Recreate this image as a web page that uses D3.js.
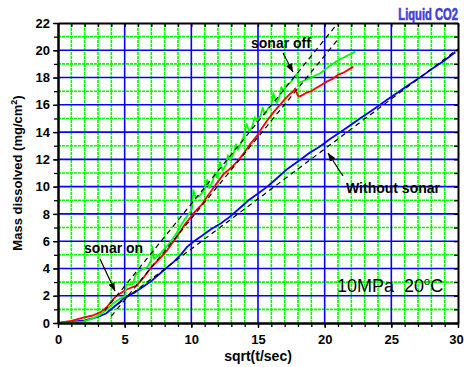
<!DOCTYPE html>
<html>
<head>
<meta charset="utf-8">
<script src="https://cdn.jsdelivr.net/npm/d3@7"></script>
<style>
  body { margin: 0; background: #fff; }
  text { font-family: "Liberation Sans", Arial, sans-serif; }
</style>
</head>
<body>
<div id="chart"></div>
<script>
// x: sqrt(t/sec), y: mass dissolved (mg/cm2)
const xTicks = [0, 5, 10, 15, 20, 25, 30];
const yTicks = [0, 2, 4, 6, 8, 10, 12, 14, 16, 18, 20, 22];

const sonarRed = [[0,0],[1,0.15],[1.9,0.4],[2.6,0.55],[3.2,0.8],[3.7,1.2],[4.05,1.65],[4.4,2.0],[5.05,2.4],[5.5,2.6],
  [5.9,2.75],[6.4,3.3],[7.0,4.1],[7.3,4.4],[7.7,4.8],[8.2,5.35],[8.9,6.3],[9.5,7.2],[9.9,7.7],[10.2,8.1],[10.8,8.7],
  [11.2,9.3],[11.65,9.9],[12.4,10.9],[13.0,11.4],[13.5,11.9],[13.9,12.4],[14.4,13.1],[14.9,13.7],[15.3,14.3],[15.65,14.8],
  [16.2,15.5],[16.65,16.0],[17.0,16.4],[17.4,16.8],[17.65,17.0],[17.8,17.2],[17.95,16.75],[18.1,16.6],[18.4,16.75],
  [18.65,16.9],[19.0,17.0],[19.3,17.2],[19.65,17.4],[20.15,17.7],[20.6,17.9],[21.0,18.2],[21.5,18.4],[22.15,18.8]];

const sonarGreen = [[0,0],[1,0.02],[1.9,0.1],[2.5,0.3],[3.15,0.6],[3.7,1.0],[4.15,1.45],[4.6,1.75],[5.05,2.0],[5.1,2.8],
  [5.6,2.85],[5.8,3.5],[6.2,3.9],[6.7,4.1],[7.0,4.6],[7.08,5.6],[7.2,4.7],[7.6,5.0],[7.9,5.35],[8.4,5.9],[8.9,6.6],
  [9.5,7.6],[9.9,8.1],[10.05,8.4],[10.15,9.75],[10.3,9.2],[10.6,9.3],[11.0,9.8],[11.2,10.5],[11.35,9.9],[11.6,10.4],
  [11.75,11.0],[11.9,10.7],[12.15,11.8],[12.35,11.2],[12.6,11.6],[12.75,12.3],[12.9,11.95],[13.2,12.5],[13.35,13.1],
  [13.5,12.7],[13.9,13.6],[14.15,14.6],[14.35,14.0],[14.6,14.5],[14.75,15.1],[14.9,14.8],[15.2,15.2],[15.35,15.8],
  [15.5,15.3],[15.8,15.8],[16.0,16.0],[16.15,16.85],[16.4,16.1],[16.6,16.6],[16.75,17.3],[16.9,17.0],[17.2,17.5],
  [17.4,17.6],[17.9,18.25],[18.05,17.6],[18.5,17.8],[18.9,17.95],[19.3,18.15],[19.65,18.3],[20.3,18.8],[20.9,19.2],
  [21.6,19.55],[22.3,19.9]];

const noSonarBlue = [[0,0],[1,0.08],[2,0.2],[3,0.45],[3.6,0.7],[4.1,1.1],[4.6,1.5],[5,1.9],[5.7,2.2],[6.3,2.6],[6.9,3.0],
  [7.5,3.5],[8.2,4.1],[8.7,4.5],[9.2,5.0],[9.7,5.6],[10.2,6.0],[10.8,6.4],[11.5,6.9],[12.2,7.3],[12.9,7.8],[13.6,8.4],
  [14.3,9.0],[15.0,9.5],[15.7,10.0],[16.4,10.6],[17.2,11.3],[18.15,11.95],[18.9,12.5],[19.65,12.95],[20.4,13.5],
  [21.2,14.0],[22.0,14.55],[22.65,15.0],[23.4,15.5],[24.0,15.9],[24.65,16.35],[25.4,16.85],[26.2,17.4],[27.15,18.0],
  [28.0,18.6],[28.9,19.2],[29.8,19.85]];

const fitGreen = [[3.5,0.9],[21.0,22.0]];
const fitRed = [[4.0,0.5],[21.0,20.8]];
const fitBlue = [[4.5,1.4],[30,20.1]];

const W = 464, H = 367;
const margin = { top: 23, right: 6, bottom: 44, left: 58 };

const svg = d3.select('#chart').append('svg').attr('width', W).attr('height', H);

const x = d3.scaleLinear().domain([0, 30]).range([margin.left, W - margin.right]);
const y = d3.scaleLinear().domain([0, 22]).range([H - margin.bottom, margin.top]);

// grid: minor green dotted, major blue solid
const g = svg.append('g');
g.selectAll('.vminor').data(d3.range(1, 30).filter(d => d % 5 !== 0)).enter().append('line')
  .attr('x1', d => x(d)).attr('x2', d => x(d)).attr('y1', y(0)).attr('y2', y(22))
  .attr('stroke', '#00ff00').attr('stroke-width', 1.6).attr('stroke-dasharray', '3,1');
g.selectAll('.hminor').data(d3.range(1, 22, 2)).enter().append('line')
  .attr('x1', x(0)).attr('x2', x(30)).attr('y1', d => y(d)).attr('y2', d => y(d))
  .attr('stroke', '#00ff00').attr('stroke-width', 1.6).attr('stroke-dasharray', '3,1');
g.selectAll('.vmajor').data(xTicks.slice(1, -1)).enter().append('line')
  .attr('x1', d => x(d)).attr('x2', d => x(d)).attr('y1', y(0)).attr('y2', y(22))
  .attr('stroke', '#0000ff').attr('stroke-width', 1.6);
g.selectAll('.hmajor').data(yTicks.slice(1, -1)).enter().append('line')
  .attr('x1', x(0)).attr('x2', x(30)).attr('y1', d => y(d)).attr('y2', d => y(d))
  .attr('stroke', '#0000ff').attr('stroke-width', 1.6);

// curves
const line = d3.line().x(d => x(d[0])).y(d => y(d[1]));
[[noSonarBlue, '#0000ff'], [sonarRed, '#ff0000'], [sonarGreen, '#00ff00']].forEach(function (s) {
  svg.append('path').datum(s[0]).attr('d', line).attr('fill', 'none')
    .attr('stroke', s[1]).attr('stroke-width', 1.8).attr('stroke-linejoin', 'round');
});
[fitGreen, fitRed, fitBlue].forEach(function (f) {
  svg.append('path').datum(f).attr('d', line).attr('fill', 'none')
    .attr('stroke', '#000').attr('stroke-width', 1.2).attr('stroke-dasharray', '5,4');
});

// axes
function styleAxis(sel) {
  sel.select('.domain').attr('stroke-width', 2);
  sel.selectAll('.tick line').attr('stroke-width', 1.3);
  sel.selectAll('text').attr('font-size', 13).attr('font-weight', 'bold')
    .attr('font-family', '"Liberation Sans", Arial, sans-serif').attr('fill', '#000');
}
const minorX = d3.range(0, 31);
const minorY = d3.range(0, 23);
svg.append('g').attr('transform', 'translate(0,' + y(0) + ')')
  .call(d3.axisBottom(x).tickValues(minorX).tickSize(4).tickSizeOuter(0).tickFormat(''))
  .call(styleAxis);
svg.append('g').attr('transform', 'translate(0,' + y(0) + ')')
  .call(d3.axisBottom(x).tickValues(xTicks).tickSize(5).tickPadding(7).tickSizeOuter(0))
  .call(styleAxis)
  .call(a => a.selectAll('.tick text').filter(d => d === 30).attr('dx', -2));
svg.append('g').attr('transform', 'translate(' + x(0) + ',0)')
  .call(d3.axisLeft(y).tickValues(minorY).tickSize(4).tickSizeOuter(0).tickFormat(''))
  .call(styleAxis);
svg.append('g').attr('transform', 'translate(' + x(0) + ',0)')
  .call(d3.axisLeft(y).tickValues(yTicks).tickSize(5).tickPadding(3).tickSizeOuter(0))
  .call(styleAxis);
svg.append('g').attr('transform', 'translate(0,' + y(22) + ')')
  .call(d3.axisTop(x).tickValues(minorX).tickSize(-4).tickSizeOuter(0).tickFormat(''))
  .call(styleAxis);
svg.append('g').attr('transform', 'translate(' + x(30) + ',0)')
  .call(d3.axisRight(y).tickValues(minorY).tickSize(-4).tickSizeOuter(0).tickFormat(''))
  .call(styleAxis);

// titles
svg.append('text').attr('x', (x(0) + x(30)) / 2).attr('y', 361).attr('text-anchor', 'middle')
  .attr('font-size', 14).attr('font-weight', 'bold').text('sqrt(t/sec)');
const yt = svg.append('text').attr('transform', 'translate(22,' + ((y(0) + y(22)) / 2) + ') rotate(-90)')
  .attr('text-anchor', 'middle').attr('font-size', 13).attr('font-weight', 'bold');
yt.append('tspan').text('Mass dissolved (mg/cm');
yt.append('tspan').attr('dy', -5).attr('font-size', 9).text('2');
yt.append('tspan').attr('dy', 5).text(')');

svg.append('text').attr('transform', 'translate(458,20) scale(0.7,1)').attr('text-anchor', 'end')
  .attr('font-size', 16).attr('font-weight', 'bold').attr('fill', '#4040d8')
  .attr('stroke', '#4040d8').attr('stroke-width', 0.6).text('Liquid CO2');

const cond = svg.append('text').attr('x', 337).attr('y', 292).attr('font-size', 18);
cond.append('tspan').text('10MPa\u00a0\u00a020');
cond.append('tspan').attr('dy', -7).attr('font-size', 11).text('o');
cond.append('tspan').attr('dy', 7).text('C');

// annotations with arrows
svg.append('defs').append('marker').attr('id', 'ah').attr('viewBox', '0 0 10 10')
  .attr('refX', 10).attr('refY', 5).attr('markerWidth', 7).attr('markerHeight', 7).attr('orient', 'auto')
  .append('path').attr('d', 'M0,1 L10,5 L0,9 Z').attr('fill', '#000');

const notes = [
  { t: 'sonar off', tx: 251, ty: 48, a: [283, 53, 293, 72] },
  { t: 'sonar on', tx: 84, ty: 253, a: [100, 259, 115, 291] },
  { t: 'Without sonar', tx: 346, ty: 193, a: [343, 176, 328, 153] }
];
notes.forEach(function (n) {
  svg.append('text').attr('x', n.tx).attr('y', n.ty).attr('font-size', 14).attr('font-weight', 'bold').text(n.t);
  svg.append('line').attr('x1', n.a[0]).attr('y1', n.a[1]).attr('x2', n.a[2]).attr('y2', n.a[3])
    .attr('stroke', '#000').attr('stroke-width', 1.2).attr('marker-end', 'url(#ah)');
});
</script>
</body>
</html>
